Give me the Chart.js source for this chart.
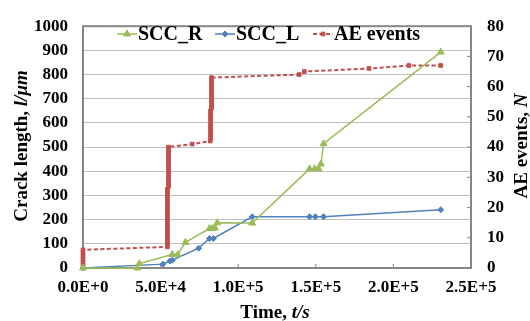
<!DOCTYPE html>
<html>
<head>
<meta charset="utf-8">
<script src="https://cdn.jsdelivr.net/npm/chart.js@4.4.0/dist/chart.umd.min.js"></script>
<style>
  body { margin: 0; background: #fff; }
  #wrap { width: 530px; height: 321px; }
</style>
</head>
<body>
<div id="wrap"><canvas id="myChart" width="530" height="321"></canvas></div>
<script>
// crack length, SCC_R (left axis, um)
const sccRTime = [0, 35000, 36300, 57500, 61000, 66000, 81500, 83300, 85000, 86500, 109000, 146000, 149300, 151800, 153300, 155000, 230500];
const sccRLen  = [0, 0, 18, 56, 55, 106, 163, 163, 165, 187, 186, 410, 410, 410, 430, 514, 893];

// crack length, SCC_L (left axis, um)
const sccLTime = [0, 51500, 56000, 57500, 74500, 81500, 84000, 109000, 146000, 149700, 155000, 230500];
const sccLLen  = [0, 16, 29, 32, 82, 122, 122, 212, 212, 212, 212, 241];

// cumulative AE events (right axis)
const aeTime = [0, 0, 0, 0, 0, 0,
  54400, 54400, 54400, 54400, 54400, 54400, 54400, 54400, 54400, 54400,
  54400, 54400, 54400, 54400, 54400, 54400, 54400, 54400, 54400, 54400,
  55100, 55100, 55100, 55100, 55100, 55100, 55100, 55100, 55100, 55100, 55100, 55100, 55100, 55100,
  70300, 82000,
  82200, 82200, 82200, 82200, 82200, 82200, 82200, 82200, 82200, 82200,
  82800, 82800, 82800, 82800, 82800, 82800, 82800, 82800, 82800, 82800, 82800,
  139300, 142600, 184300, 210000, 230500];
const aeCount = [1, 2, 3, 4, 5, 6,
  7, 8, 9, 10, 11, 12, 13, 14, 15, 16,
  17, 18, 19, 20, 21, 22, 23, 24, 25, 26,
  27, 28, 29, 30, 31, 32, 33, 34, 35, 36, 37, 38, 39, 40,
  41, 42,
  43, 44, 45, 46, 47, 48, 49, 50, 51, 52,
  53, 54, 55, 56, 57, 58, 59, 60, 61, 62, 63,
  64, 65, 66, 67, 67];

const xTickLabels = ['0.0E+0', '5.0E+4', '1.0E+5', '1.5E+5', '2.0E+5', '2.5E+5'];
const seriesNames = ['SCC_R', 'SCC_L', 'AE events'];

const green = '#9BBB59';
const blue = '#4F81BD';
const red = '#C0504D';
const fontFamily = "'Liberation Serif', 'Times New Roman', serif";

function toPoints(xs, ys) {
  return xs.map(function (x, i) { return { x: x, y: ys[i] }; });
}

function drawMarker(ctx, style, x, y, r, color) {
  ctx.beginPath();
  if (style === 'triangle') {
    ctx.moveTo(x, y - r);
    ctx.lineTo(x + r * 0.866, y + r * 0.5);
    ctx.lineTo(x - r * 0.866, y + r * 0.5);
  } else if (style === 'rectRot') {
    ctx.moveTo(x, y - r);
    ctx.lineTo(x + r, y);
    ctx.lineTo(x, y + r);
    ctx.lineTo(x - r, y);
  } else {
    var s = r * Math.SQRT1_2;
    ctx.rect(x - s, y - s, 2 * s, 2 * s);
  }
  ctx.closePath();
  ctx.fillStyle = color;
  ctx.strokeStyle = color;
  ctx.lineWidth = 1;
  ctx.fill();
  ctx.stroke();
}

// frame round the plot plus the small inner tick marks
const framePlugin = {
  id: 'frame',
  beforeDatasetsDraw(chart) {
    const ctx = chart.ctx;
    const a = chart.chartArea;
    const xs = chart.scales.x;
    const y2 = chart.scales.y2;
    ctx.save();
    ctx.strokeStyle = '#868686';
    ctx.lineWidth = 1;
    xs.ticks.forEach(function (t) {
      const px = xs.getPixelForValue(t.value);
      ctx.beginPath();
      ctx.moveTo(px, a.bottom);
      ctx.lineTo(px, a.bottom - 4);
      ctx.stroke();
    });
    y2.ticks.forEach(function (t) {
      const py = y2.getPixelForValue(t.value);
      ctx.beginPath();
      ctx.moveTo(a.right, py);
      ctx.lineTo(a.right - 4, py);
      ctx.stroke();
    });
    ctx.lineWidth = 2;
    ctx.strokeRect(a.left, a.top, a.right - a.left, a.bottom - a.top);
    ctx.restore();
  }
};

// legend drawn inside the top of the plot, line sample with marker
const legendPlugin = {
  id: 'insideLegend',
  afterDraw(chart) {
    const ctx = chart.ctx;
    const starts = [117, 215, 313];
    const y = 34;
    ctx.save();
    ctx.font = 'bold 20px ' + fontFamily;
    ctx.textBaseline = 'middle';
    ctx.textAlign = 'left';
    chart.data.datasets.forEach(function (ds, i) {
      const x0 = starts[i];
      ctx.beginPath();
      ctx.strokeStyle = ds.borderColor;
      ctx.lineWidth = ds.borderWidth;
      ctx.setLineDash(ds.borderDash || []);
      ctx.moveTo(x0, y);
      ctx.lineTo(x0 + 20, y);
      ctx.stroke();
      ctx.setLineDash([]);
      drawMarker(ctx, ds.pointStyle, x0 + 10, y, ds.pointRadius, ds.borderColor);
      ctx.fillStyle = '#000';
      ctx.fillText(seriesNames[i], x0 + 21, y + 1);
    });
    ctx.restore();
  }
};

// axis titles with italic symbols
function drawMixed(ctx, parts, x, y) {
  let w = 0;
  parts.forEach(function (p) { ctx.font = p[1] + ' 19px ' + fontFamily; w += ctx.measureText(p[0]).width; });
  let cx = x - w / 2;
  parts.forEach(function (p) {
    ctx.font = p[1] + ' 19px ' + fontFamily;
    ctx.fillText(p[0], cx, y);
    cx += ctx.measureText(p[0]).width;
  });
}

const titlePlugin = {
  id: 'axisTitles',
  afterDraw(chart) {
    const ctx = chart.ctx;
    ctx.save();
    ctx.fillStyle = '#000';
    ctx.textAlign = 'left';
    ctx.textBaseline = 'alphabetic';
    drawMixed(ctx, [['Time, ', 'bold'], ['t/s', 'italic bold']], 275, 318);
    ctx.save();
    ctx.translate(27, 146);
    ctx.rotate(-Math.PI / 2);
    drawMixed(ctx, [['Crack length, ', 'bold'], ['l/\u03bcm', 'italic bold']], 0, 0);
    ctx.restore();
    ctx.save();
    ctx.translate(527, 146);
    ctx.rotate(-Math.PI / 2);
    drawMixed(ctx, [['AE events, ', 'bold'], ['N', 'italic bold']], 0, 0);
    ctx.restore();
    ctx.restore();
  }
};

const tickFont = { family: fontFamily, size: 17, weight: 'bold' };

const ctx = document.getElementById('myChart').getContext('2d');
const crackChart = new Chart(ctx, {
  type: 'scatter',
  data: {
    datasets: [{
      label: seriesNames[0],
      data: toPoints(sccRTime, sccRLen),
      showLine: true,
      borderColor: green,
      backgroundColor: green,
      borderWidth: 1.5,
      pointStyle: 'triangle',
      pointRadius: 4,
      pointBorderWidth: 1,
      yAxisID: 'y',
      clip: false
    }, {
      label: seriesNames[1],
      data: toPoints(sccLTime, sccLLen),
      showLine: true,
      borderColor: blue,
      backgroundColor: blue,
      borderWidth: 1.5,
      pointStyle: 'rectRot',
      pointRadius: 3,
      pointBorderWidth: 1,
      yAxisID: 'y',
      clip: false
    }, {
      label: seriesNames[2],
      data: toPoints(aeTime, aeCount),
      showLine: true,
      borderColor: red,
      backgroundColor: red,
      borderWidth: 2,
      borderDash: [4, 2.5],
      pointStyle: 'rect',
      pointRadius: 2.6,
      pointBorderWidth: 1,
      yAxisID: 'y2',
      clip: false
    }]
  },
  options: {
    responsive: false,
    animation: false,
    layout: { padding: { top: 18, left: 0, right: 0, bottom: 0 } },
    plugins: { legend: { display: false }, tooltip: { enabled: false } },
    scales: {
      x: {
        type: 'linear',
        min: 0, max: 250000,
        ticks: {
          stepSize: 50000,
          font: tickFont, color: '#000', padding: 9,
          maxRotation: 0, autoSkip: false,
          callback: function (v, i) { return xTickLabels[i]; }
        },
        grid: { display: false, drawTicks: false },
        border: { display: false },
        afterFit: function (s) { s.height = 53; }
      },
      y: {
        position: 'left',
        min: 0, max: 1000,
        ticks: {
          stepSize: 100, font: tickFont, color: '#000', padding: 15,
          callback: function (v) { return String(v); }
        },
        grid: { color: '#c0c0c0', lineWidth: 1, drawTicks: false },
        border: { display: false },
        afterFit: function (s) { s.width = 83; }
      },
      y2: {
        position: 'right',
        min: 0, max: 80,
        ticks: {
          stepSize: 10, font: tickFont, color: '#000', padding: 16,
          callback: function (v) { return String(v); }
        },
        grid: { display: false, drawTicks: false },
        border: { display: false },
        afterFit: function (s) { s.width = 59; }
      }
    }
  },
  plugins: [framePlugin, legendPlugin, titlePlugin]
});
</script>
</body>
</html>
